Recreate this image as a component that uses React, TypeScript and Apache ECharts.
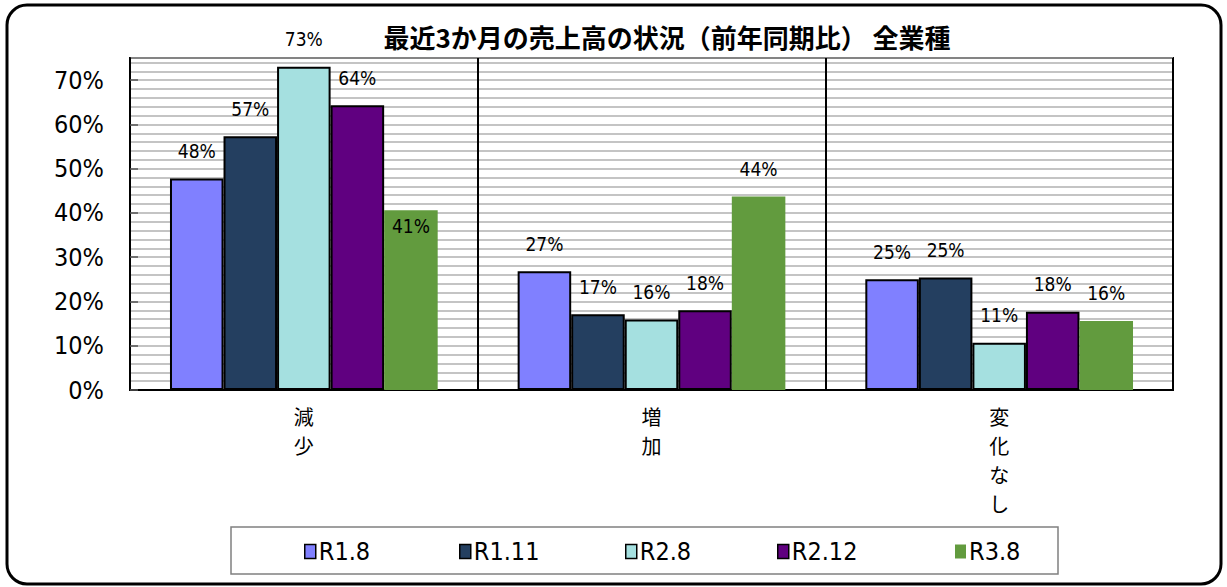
import React, { useEffect, useRef } from "react";
import * as echarts from "echarts";

const categories = ["減少", "増加", "変化なし"];
const seriesNames = ["R1.8", "R1.11", "R2.8", "R2.12", "R3.8"];
const r1_8 = [0.478, 0.268, 0.25];
const r1_11 = [0.573, 0.171, 0.254];
const r2_8 = [0.73, 0.159, 0.107];
const r2_12 = [0.643, 0.18, 0.177];
const r3_8 = [0.406, 0.437, 0.156];
const yTickLabels = ["0%", "10%", "20%", "30%", "40%", "50%", "60%", "70%"];
const title = "最近3か月の売上高の状況（前年同期比） 全業種";

const colors = ["#8080FF", "#243F60", "#A5E0E0", "#600080", "#629B3E"];
const legendLefts = [304, 459, 625, 777, 955];
const FONT = "'Liberation Sans Narrow', 'DejaVu Sans Condensed', 'Liberation Sans', sans-serif";

export default function App() {
  const ref = useRef<HTMLDivElement>(null);
  useEffect(() => {
    document.body.style.margin = "0";
    const chart = echarts.init(ref.current!, null, { renderer: "svg" });
    const data = [r1_8, r1_11, r2_8, r2_12, r3_8];
    const series = data.map((vals, i) => ({
      name: seriesNames[i],
      type: "bar",
      barGap: "0%",
      barCategoryGap: "23%",
      itemStyle: {
        color: colors[i],
        borderColor: i === 4 ? colors[i] : "#000",
        borderWidth: i === 4 ? 0 : 2,
      },
      label: {
        show: true,
        position: "top",
        distance: 18,
        fontFamily: FONT,
        fontSize: 19,
        color: "#000",
        formatter: (p: any) => Math.round(p.value * 100) + "%",
      },
      data: vals.map((v, j) =>
        i === 4 && j === 0
          ? { value: v, label: { position: "insideTop", distance: 6 } }
          : v
      ),
    }));
    const legends = seriesNames.map((n, i) => ({
      data: [n],
      left: legendLefts[i],
      top: 539,
      padding: 0,
      itemWidth: 11,
      itemHeight: 14,
      itemGap: 0,
      icon: "rect",
      textStyle: { fontFamily: FONT, fontSize: 25, color: "#000", padding: [0, 0, 0, -2] },
      itemStyle: { borderColor: "#000", borderWidth: i === 4 ? 0 : 1.5 },
    }));
    chart.setOption({
      animation: false,
      backgroundColor: "#fff",
      title: {
        text: title,
        left: 662,
        top: 18,
        textAlign: "center",
        textStyle: {
          fontFamily: "'Noto Sans CJK JP', sans-serif",
          fontWeight: "bold",
          fontSize: 26,
          color: "#000",
        },
      },
      legend: legends,
      grid: { left: 130, right: 54, top: 58, bottom: 197, show: true, borderColor: "#000", borderWidth: 2 },
      xAxis: {
        type: "category",
        data: categories,
        axisLine: { show: true, lineStyle: { color: "#000", width: 2 } },
        axisTick: { show: false },
        splitLine: { show: true, lineStyle: { color: "#000", width: 2 } },
        axisLabel: {
          fontFamily: "'Noto Sans CJK JP', sans-serif",
          fontSize: 20,
          color: "#000",
          lineHeight: 29,
          margin: 12,
          formatter: (v: string) => v.split("").join("\n"),
        },
      },
      yAxis: [
        {
          type: "value",
          min: 0,
          max: 0.75,
          interval: 0.1,
          axisLine: { show: true, lineStyle: { color: "#000", width: 2 } },
          axisTick: { show: true, inside: true, length: 8, lineStyle: { color: "#555", width: 1.5 } },
          splitLine: { show: false },
          axisLabel: {
            showMaxLabel: false,
            fontFamily: FONT,
            fontSize: 25,
            color: "#000",
            margin: 26,
            formatter: (v: number) => yTickLabels[Math.round(v * 10)] ?? "",
          },
        },
        {
          type: "value",
          position: "left",
          min: 0,
          max: 0.75,
          interval: 0.02,
          axisLine: { show: false },
          axisTick: { show: false },
          axisLabel: { show: false },
          splitLine: { show: true, lineStyle: { color: "#B0B0B0", width: 1.5 } },
        },
      ],
      series,
      graphic: [
        {
          type: "rect",
          shape: { x: 231, y: 527, width: 827, height: 47 },
          style: { fill: "none", stroke: "#808080", lineWidth: 1.5 },
          z: 0,
        },
        {
          type: "rect",
          shape: { x: 7, y: 5, width: 1214, height: 579, r: 20 },
          style: { fill: "none", stroke: "#000", lineWidth: 3 },
          z: 0,
        },
      ],
    });
    return () => chart.dispose();
  }, []);
  return <div ref={ref} style={{ width: 1227, height: 587 }} />;
}
